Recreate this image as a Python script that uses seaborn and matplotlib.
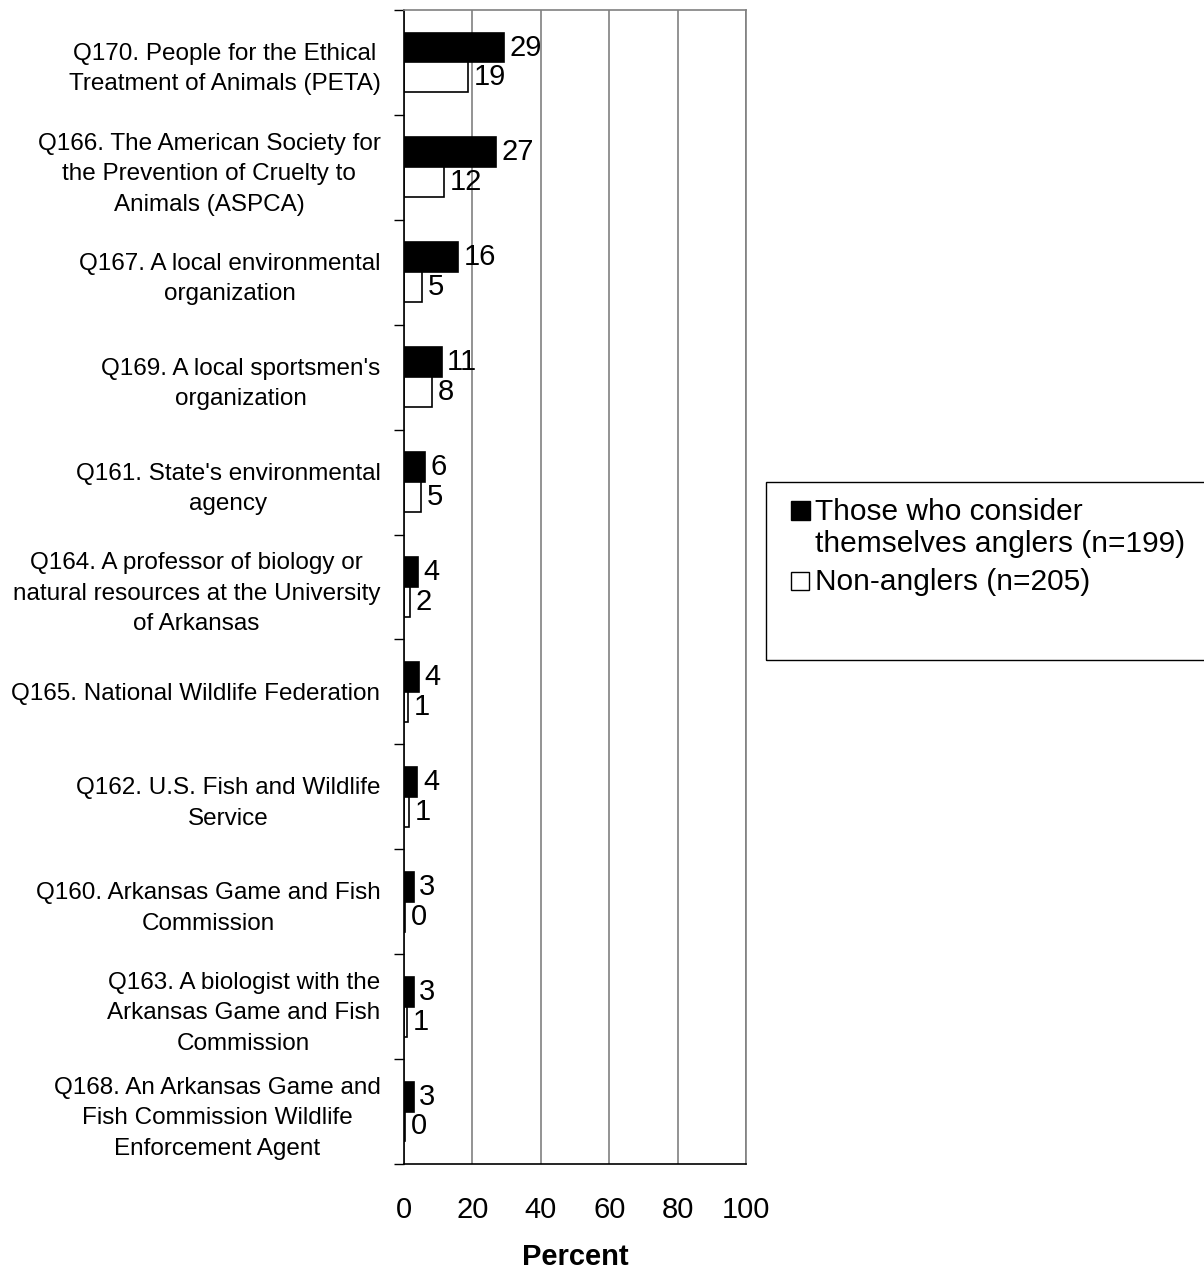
import numpy as np
import pandas as pd
import seaborn as sns
import matplotlib.pyplot as plt
from matplotlib.patches import Rectangle

# data
questions = [
    "Q170. People for the Ethical\nTreatment of Animals (PETA)",
    "Q166. The American Society for\nthe Prevention of Cruelty to\nAnimals (ASPCA)",
    "Q167. A local environmental\norganization",
    "Q169. A local sportsmen's\norganization",
    "Q161. State's environmental\nagency",
    "Q164. A professor of biology or\nnatural resources at the University\nof Arkansas",
    "Q165. National Wildlife Federation",
    "Q162. U.S. Fish and Wildlife\nService",
    "Q160. Arkansas Game and Fish\nCommission",
    "Q163. A biologist with the\nArkansas Game and Fish\nCommission",
    "Q168. An Arkansas Game and\nFish Commission Wildlife\nEnforcement Agent",
]
anglers = [29.1, 27.0, 15.9, 11.0, 6.2, 4.1, 4.3, 3.9, 2.8, 2.8, 2.8]
non_anglers = [18.7, 11.8, 5.4, 8.3, 4.9, 1.8, 1.1, 1.4, 0.4, 1.0, 0.4]
groups = ["Those who consider themselves anglers (n=199)", "Non-anglers (n=205)"]

df = pd.DataFrame({
    'question': questions * 2,
    'percent': anglers + non_anglers,
    'group': [groups[0]] * len(questions) + [groups[1]] * len(questions),
})

sns.set_style('white')
plt.rcParams['font.family'] = ['Liberation Sans', 'DejaVu Sans']
plt.rcParams['text.color'] = 'black'
plt.rcParams['xtick.color'] = 'black'
plt.rcParams['ytick.color'] = 'black'
plt.rcParams['axes.labelcolor'] = 'black'

W, H = 1204, 1273
fig = plt.figure(figsize=(W / 100, H / 100), dpi=100)
ax = fig.add_axes([404 / W, 1 - 1164 / H, 342 / W, 1154 / H])

sns.barplot(data=df, y='question', x='percent', hue='group', order=questions,
            hue_order=groups, palette=['black', 'white'], edgecolor='black',
            linewidth=1.2, width=0.57, orient='h', ax=ax, legend=False)

ax.set_xlim(0, 100)
ax.set_ylim(len(questions) - 0.5, -0.5)
ax.set_xticks(range(0, 101, 20))
ax.tick_params(axis='x', labelsize=21, length=9, width=1, direction='out', pad=14)
ax.xaxis.grid(True, color='#808080', linewidth=1.2)
ax.set_axisbelow(True)

# category labels at centres, tick marks at boundaries
ax.set_yticks(range(len(questions)))
ax.set_yticklabels(questions, fontsize=17.5, multialignment='center', linespacing=1.5)
ax.tick_params(axis='y', which='major', length=0, pad=17)
ax.set_yticks(np.arange(-0.5, len(questions)), minor=True)
ax.tick_params(axis='y', which='minor', length=7, width=1, direction='out', left=True)

for side in ['left', 'bottom']:
    ax.spines[side].set_color('black')
    ax.spines[side].set_linewidth(1.2)
for side in ['top', 'right']:
    ax.spines[side].set_color('#808080')
    ax.spines[side].set_linewidth(1.2)

ax.set_ylabel('')
ax.set_xlabel('Percent', fontsize=21, fontweight='bold', labelpad=14)

for cont in ax.containers:
    ax.bar_label(cont, fmt='%.0f', padding=4, fontsize=21)

# legend box drawn by hand
def px(x, y):
    return x / W, 1 - y / H

fig.patches.append(Rectangle(px(766, 660), 450 / W, 178 / H, transform=fig.transFigure,
                             fill=False, edgecolor='black', linewidth=1))
fig.patches.append(Rectangle(px(791, 520), 19 / W, 19 / H, transform=fig.transFigure,
                             facecolor='black', edgecolor='black', linewidth=1))
fig.patches.append(Rectangle(px(791, 590), 18 / W, 18 / H, transform=fig.transFigure,
                             facecolor='white', edgecolor='black', linewidth=1))
fig.text(*px(815, 520), "Those who consider", fontsize=21.5, va='baseline')
fig.text(*px(815, 552), "themselves anglers (n=199)", fontsize=21.5, va='baseline')
fig.text(*px(815, 590), groups[1], fontsize=21.5, va='baseline')

fig.savefig('out.png', dpi=100)
